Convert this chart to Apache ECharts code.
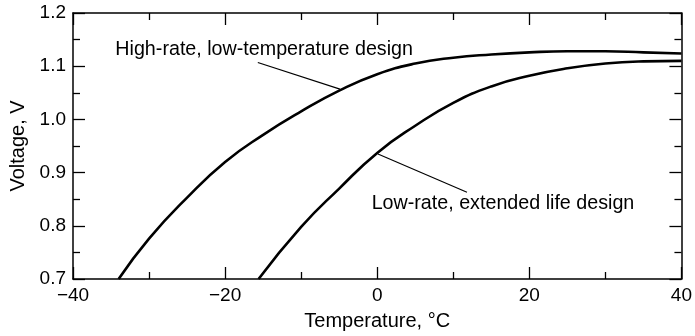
<!DOCTYPE html>
<html>
<head>
<meta charset="utf-8">
<script src="https://cdn.jsdelivr.net/npm/echarts@6/dist/echarts.min.js"></script>
<style>html,body{margin:0;padding:0;background:#fff}#c{width:695px;height:336px}</style>
</head>
<body>
<div id="c"></div>
<script>
// Temperature (°C) vs voltage (V)
var highRate = [[-34.0,0.700],[-30,0.776],[-25,0.853],[-20,0.920],[-15,0.971],[-10,1.015],[-5,1.054],[0,1.085],[5,1.105],[10,1.116],[15,1.122],[20,1.126],[25,1.128],[30,1.128],[35,1.126],[40,1.124]];
var lowRate = [[-15.6,0.700],[-10,0.798],[-5,0.870],[0,0.937],[5,0.988],[10,1.031],[15,1.062],[20,1.082],[25,1.096],[30,1.105],[35,1.109],[40,1.110]];
var xTicks = [-40,-20,0,20,40];
var yTicks = [0.7,0.8,0.9,1.0,1.1,1.2];
var highLabel = 'High-rate, low-temperature design';
var lowLabel = 'Low-rate, extended life design';
var highLabelAt = [-34.5,1.131], highLeader = [[-15.7,1.107],[-4.9,1.057]];
var lowLabelAt = [-0.8,0.841], lowLeader = [[0.1,0.935],[11.8,0.863]];

var FONT = 'Liberation Sans';
function axisCommon(){ return {
  axisLine:{show:true,onZero:false,lineStyle:{color:'#000',width:1.5}},
  axisTick:{show:true,inside:true,length:12,lineStyle:{color:'#000',width:1.3}},
  minorTick:{show:true,splitNumber:2,length:7,lineStyle:{color:'#000',width:1.3}},
  splitLine:{show:false}
};}
function fmtNum(v){ return (v<0?'\u2212':'')+Math.abs(v); }
var chart = echarts.init(document.getElementById('c'));
chart.setOption({
  animation:false,
  backgroundColor:'#fff',
  grid:{left:73,right:12,top:13,bottom:53},
  xAxis:[
    Object.assign({type:'value',min:-40,max:40,interval:20,position:'bottom',
      name:'Temperature, \u00B0C',nameLocation:'middle',nameGap:32,
      nameTextStyle:{fontFamily:FONT,fontSize:20,color:'#000'},
      axisLabel:{fontFamily:FONT,fontSize:19,color:'#000',margin:7,formatter:function(v){return xTicks.indexOf(v)>=0?fmtNum(v):'';}}},axisCommon()),
    Object.assign({type:'value',min:-40,max:40,interval:20,position:'top',axisLabel:{show:false}},axisCommon())
  ],
  yAxis:[
    Object.assign({type:'value',min:0.7,max:1.2,interval:0.1,position:'left',
      name:'Voltage, V',nameLocation:'middle',nameGap:45,
      nameTextStyle:{fontFamily:FONT,fontSize:20,color:'#000'},
      axisLabel:{fontFamily:FONT,fontSize:19,color:'#000',margin:7,formatter:function(v){return v.toFixed(1);}}},axisCommon()),
    Object.assign({type:'value',min:0.7,max:1.2,interval:0.1,position:'right',axisLabel:{show:false}},axisCommon())
  ],
  series:[
    {type:'line',name:highLabel,data:highRate,smooth:0.5,showSymbol:false,lineStyle:{color:'#000',width:2.6},
     markLine:{silent:true,symbol:'none',lineStyle:{color:'#000',width:1.2,type:'solid'},label:{show:false},
       data:[[{coord:highLeader[0]},{coord:highLeader[1]}]]},
     markPoint:{silent:true,symbol:'circle',symbolSize:1,itemStyle:{color:'rgba(0,0,0,0)'},
       label:{show:true,position:'right',distance:0,formatter:highLabel,fontFamily:FONT,fontSize:19.7,color:'#000'},
       data:[{coord:highLabelAt}]}},
    {type:'line',name:lowLabel,data:lowRate,smooth:0.5,showSymbol:false,lineStyle:{color:'#000',width:2.6},
     markLine:{silent:true,symbol:'none',lineStyle:{color:'#000',width:1.2,type:'solid'},label:{show:false},
       data:[[{coord:lowLeader[0]},{coord:lowLeader[1]}]]},
     markPoint:{silent:true,symbol:'circle',symbolSize:1,itemStyle:{color:'rgba(0,0,0,0)'},
       label:{show:true,position:'right',distance:0,formatter:lowLabel,fontFamily:FONT,fontSize:19.7,color:'#000'},
       data:[{coord:lowLabelAt}]}}
  ]
});
</script>
</body>
</html>
